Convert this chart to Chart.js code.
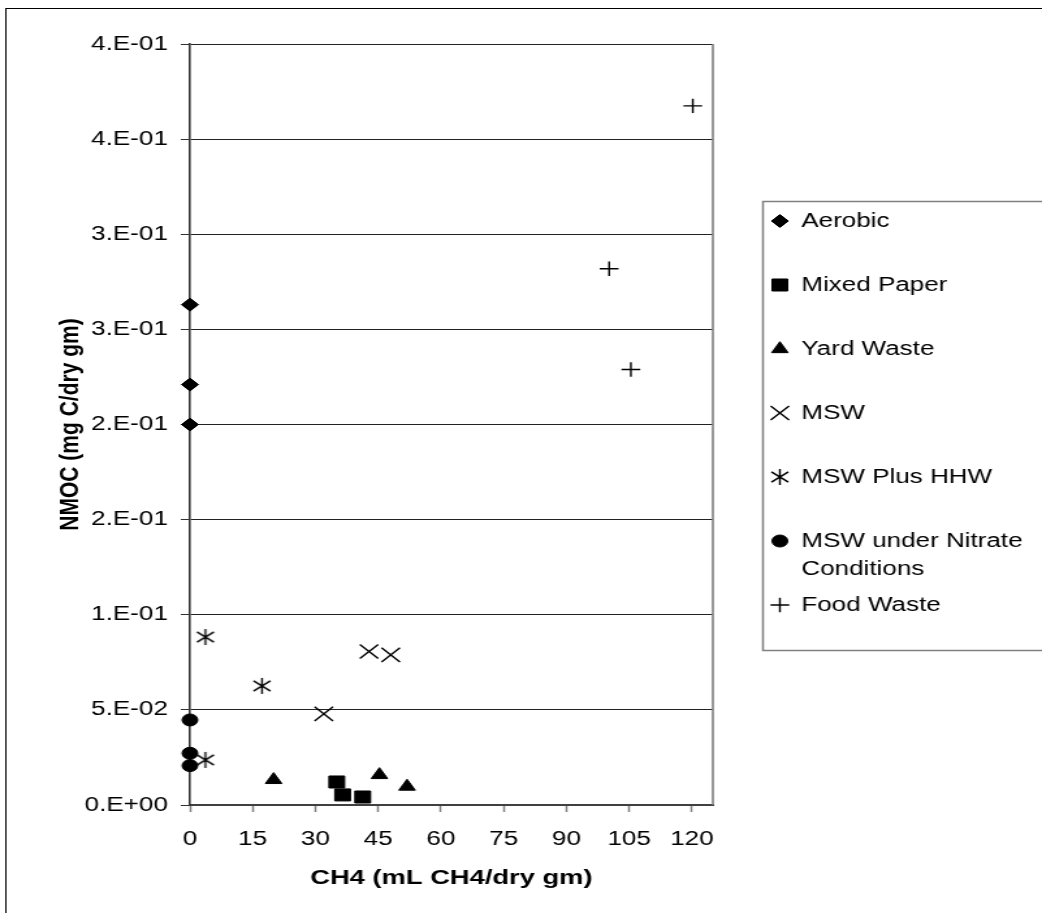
<!DOCTYPE html>
<html>
<head>
<meta charset="utf-8">
<title>NMOC vs CH4</title>
<script src="https://cdn.jsdelivr.net/npm/chart.js@4.4.0/dist/chart.umd.min.js"></script>
<style>
  html, body { margin: 0; padding: 0; background: #fff; }
  #chart { display: block; }
</style>
</head>
<body>
<!-- drawn 801px wide and widened to 1042px, which gives the wide Excel look -->
<canvas id="chart" width="801" height="913" style="width:1042px;height:913px"></canvas>
<script>
// --- Data (x: mL CH4/dry gm, y: mg C/dry gm) ---
const aerobicX = [0, 0, 0];
const aerobicY = [0.263, 0.221, 0.200];

const mixedPaperX = [35.1, 36.5, 41.3];
const mixedPaperY = [0.0121, 0.0053, 0.0042];

const yardWasteX = [20.0, 45.3, 51.9];
const yardWasteY = [0.0132, 0.0158, 0.0097];

const mswX = [32.0, 42.8, 48.0];
const mswY = [0.0479, 0.0807, 0.0789];

const mswHhwX = [3.7, 17.2, 3.7];
const mswHhwY = [0.0883, 0.0626, 0.0237];

const nitrateX = [0, 0, 0];
const nitrateY = [0.0447, 0.0272, 0.0207];

const foodWasteX = [120.2, 100.2, 105.4];
const foodWasteY = [0.3675, 0.2819, 0.2289];

const seriesNames = ['Aerobic', 'Mixed Paper', 'Yard Waste', 'MSW', 'MSW Plus HHW',
                     'MSW under Nitrate Conditions', 'Food Waste'];

const xTickLabels = ['0', '15', '30', '45', '60', '75', '90', '105', '120'];
const yTickLabels = ['0.E+00', '5.E-02', '1.E-01', '2.E-01', '2.E-01',
                     '3.E-01', '3.E-01', '4.E-01', '4.E-01'];

const FONT = '"Liberation Sans", Arial, sans-serif';
Chart.defaults.font.family = FONT;
Chart.defaults.color = '#000';

function toPoints(xs, ys) {
    return xs.map((x, i) => ({ x: x, y: ys[i] }));
}

// six-armed asterisk marker (vertical bar plus an X)
function makeAsterisk(w, h, lw) {
    const c = document.createElement('canvas');
    c.width = w + 4;
    c.height = h + 4;
    const g = c.getContext('2d');
    const cx = c.width / 2, cy = c.height / 2;
    g.strokeStyle = '#000';
    g.lineWidth = lw;
    g.beginPath();
    g.moveTo(cx, cy - h / 2); g.lineTo(cx, cy + h / 2);
    g.moveTo(cx - w / 2, cy - h * 0.32); g.lineTo(cx + w / 2, cy + h * 0.32);
    g.moveTo(cx + w / 2, cy - h * 0.32); g.lineTo(cx - w / 2, cy + h * 0.32);
    g.stroke();
    return c;
}

function series(label, xs, ys, style, radius, lw) {
    return {
        label: label,
        data: toPoints(xs, ys),
        pointStyle: style,
        pointRadius: radius,
        pointHoverRadius: radius,
        borderWidth: lw,
        backgroundColor: '#000',
        borderColor: '#000',
        showLine: false,
        clip: false
    };
}

const datasets = [
    series(seriesNames[0], aerobicX, aerobicY, 'rectRot', 6.5, 1),
    series(seriesNames[1], mixedPaperX, mixedPaperY, 'rect', 8.5, 1),
    series(seriesNames[2], yardWasteX, yardWasteY, 'triangle', 7.3, 1),
    series(seriesNames[3], mswX, mswY, 'crossRot', 10, 1.4),
    series(seriesNames[4], mswHhwX, mswHhwY, makeAsterisk(13, 16, 1.4), 8, 1.4),
    series(seriesNames[5], nitrateX, nitrateY, 'circle', 6, 1),
    series(seriesNames[6], foodWasteX, foodWasteY, 'cross', 7.2, 1.4)
];

// white page, outer frame and gray right edge of the plot
const framePlugin = {
    id: 'frame',
    beforeDraw(chart) {
        const ctx = chart.ctx;
        ctx.save();
        ctx.fillStyle = '#fff';
        ctx.fillRect(0, 0, chart.width, chart.height);
        ctx.restore();
    },
    afterDraw(chart) {
        const ctx = chart.ctx;
        const a = chart.chartArea;
        ctx.save();
        ctx.strokeStyle = '#000';
        ctx.lineWidth = 1;
        ctx.strokeRect(4.5, 8.5, chart.width + 20, chart.height + 20);
        ctx.strokeStyle = '#808080';
        ctx.lineWidth = 1.6;
        ctx.beginPath();
        ctx.moveTo(a.right, a.top);
        ctx.lineTo(a.right, a.bottom);
        ctx.stroke();
        ctx.restore();
    }
};

// boxed legend on the right, one row per series, long names wrapped
const legendPlugin = {
    id: 'boxLegend',
    afterDraw(chart) {
        const ctx = chart.ctx;
        const box = { left: 586.5, top: 201.5, bottom: 650.5 };
        const markerX = 599.5, textX = 616, firstRow = 221, rowGap = 64, maxText = 185;
        ctx.save();
        ctx.strokeStyle = '#808080';
        ctx.lineWidth = 1.5;
        ctx.strokeRect(box.left, box.top, chart.width + 20 - box.left, box.bottom - box.top);

        ctx.font = '20px ' + FONT;
        ctx.textBaseline = 'middle';
        ctx.textAlign = 'left';
        chart.data.datasets.forEach((ds, i) => {
            const y = firstRow + i * rowGap;
            ctx.fillStyle = '#000';
            ctx.strokeStyle = '#000';
            ctx.lineWidth = ds.borderWidth;
            Chart.helpers.drawPoint(ctx, {
                pointStyle: ds.pointStyle,
                radius: ds.pointRadius,
                rotation: 0,
                borderWidth: ds.borderWidth
            }, markerX, y);

            // simple word wrap
            const words = ds.label.split(' ');
            const lines = [];
            let line = '';
            words.forEach(w => {
                const test = line ? line + ' ' + w : w;
                if (line && ctx.measureText(test).width > maxText) {
                    lines.push(line);
                    line = w;
                } else {
                    line = test;
                }
            });
            lines.push(line);
            lines.forEach((t, k) => ctx.fillText(t, textX, y + k * 28));
        });
        ctx.restore();
    }
};

new Chart(document.getElementById('chart'), {
    type: 'scatter',
    data: { datasets: datasets },
    options: {
        responsive: false,
        devicePixelRatio: 1,
        animation: false,
        layout: { padding: { left: 0, top: 44, right: 253, bottom: 0 } },
        plugins: {
            legend: { display: false },
            tooltip: { enabled: false }
        },
        scales: {
            x: {
                type: 'linear',
                min: 0,
                max: 125,
                afterFit(scale) { scale.height = 108; },
                border: { display: true, color: '#404040', width: 2 },
                grid: {
                    drawOnChartArea: false,
                    drawTicks: true,
                    tickLength: 7,
                    tickColor: '#808080',
                    tickWidth: 1.5
                },
                ticks: {
                    stepSize: 15,
                    includeBounds: false,
                    maxRotation: 0,
                    autoSkip: false,
                    padding: 15,
                    font: { size: 20 },
                    callback: (v, i) => xTickLabels[i]
                },
                title: {
                    display: true,
                    text: 'CH4 (mL CH4/dry gm)',
                    font: { size: 21, weight: 'bold' },
                    padding: { top: 0, bottom: 22 }
                }
            },
            y: {
                type: 'linear',
                min: 0,
                max: 0.4,
                afterFit(scale) { scale.width = 146; },
                border: { display: true, color: '#333', width: 1.6 },
                grid: {
                    color: '#222',
                    lineWidth: 1,
                    drawTicks: true,
                    tickLength: 7,
                    tickColor: '#333'
                },
                ticks: {
                    stepSize: 0.05,
                    includeBounds: false,
                    padding: 10,
                    font: { size: 20 },
                    callback: (v, i) => yTickLabels[i]
                },
                title: {
                    display: true,
                    text: 'NMOC (mg C/dry gm)',
                    font: { size: 21, weight: 'bold' },
                    padding: { top: 42, bottom: 0 }
                }
            }
        }
    },
    plugins: [framePlugin, legendPlugin]
});
</script>
</body>
</html>
